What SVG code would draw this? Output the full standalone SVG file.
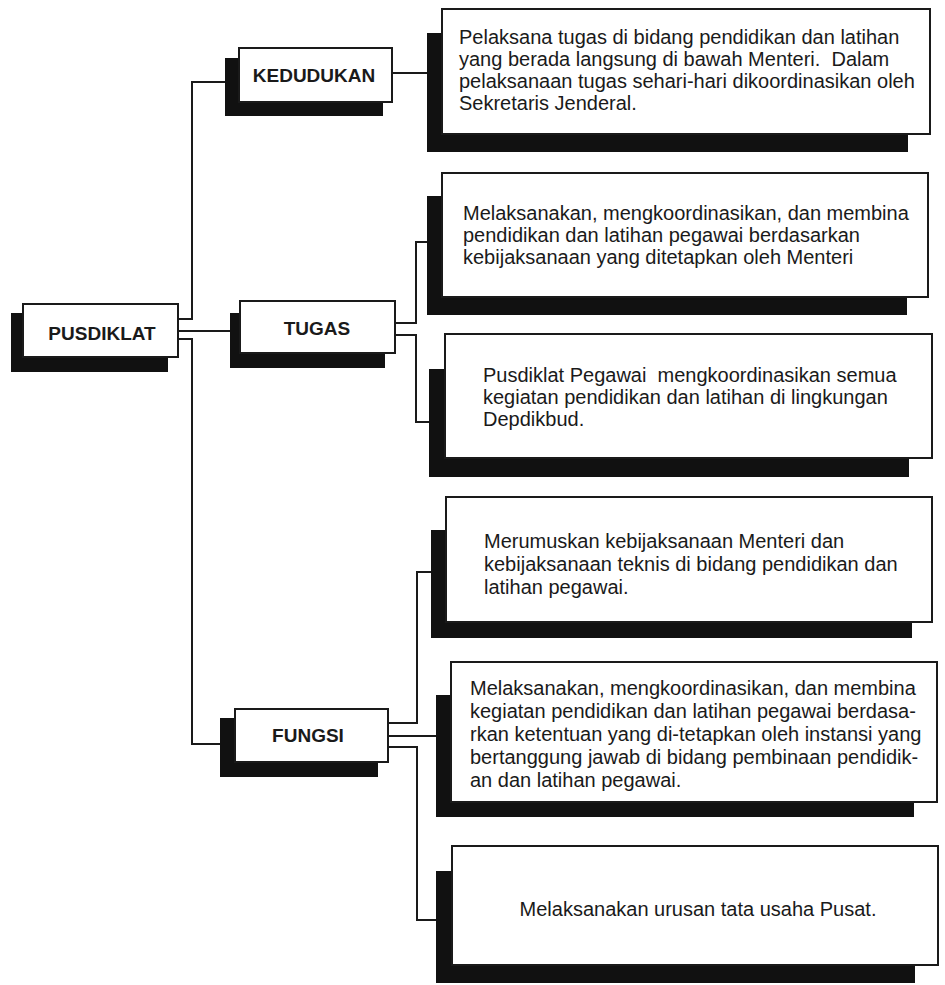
<svg xmlns="http://www.w3.org/2000/svg" width="945" height="985" viewBox="0 0 945 985">
  <style>
    .shadow { fill: #111; }
    .box { fill: #fff; stroke: #1a1a1a; stroke-width: 2; }
    .label { font-family: "Liberation Sans", Arial, Helvetica, sans-serif; font-weight: bold; font-size: 19px; fill: #1a1a1a; text-anchor: middle; }
    .body { font-family: "Liberation Sans", Arial, Helvetica, sans-serif; font-size: 20px; fill: #1a1a1a; white-space: pre; }
    .wire { fill: none; stroke: #1a1a1a; stroke-width: 2; }
  </style>
  <rect width="945" height="985" fill="#fff"/>

  <!-- connectors -->
  <g id="connectors">
    <path class="wire" d="M178,319 H192 V82 H225"/>
    <path class="wire" d="M178,331 H230"/>
    <path class="wire" d="M178,339 H192 V744 H220"/>
    <path class="wire" d="M392,73 H427"/>
    <path class="wire" d="M395,323 H416 V242 H427"/>
    <path class="wire" d="M395,335 H416 V422 H429"/>
    <path class="wire" d="M388,723 H417 V572 H431"/>
    <path class="wire" d="M388,736 H436"/>
    <path class="wire" d="M388,747 H417 V920 H436"/>
  </g>

  <!-- root -->
  <g id="pusdiklat">
    <rect class="shadow" x="11" y="313" width="157" height="59"/>
    <rect class="box" x="23" y="304" width="155" height="53"/>
    <text class="label" x="102" y="340">PUSDIKLAT</text>
  </g>

  <!-- second level -->
  <g id="kedudukan">
    <rect class="shadow" x="225" y="58" width="158" height="58"/>
    <rect class="box" x="239" y="48" width="153" height="54"/>
    <text class="label" x="314" y="82">KEDUDUKAN</text>
  </g>
  <g id="tugas">
    <rect class="shadow" x="230" y="313" width="155" height="55"/>
    <rect class="box" x="240" y="301" width="155" height="52"/>
    <text class="label" x="317" y="335">TUGAS</text>
  </g>
  <g id="fungsi">
    <rect class="shadow" x="220" y="718" width="158" height="59"/>
    <rect class="box" x="235" y="709" width="153" height="53"/>
    <text class="label" x="308" y="742">FUNGSI</text>
  </g>

  <!-- description boxes -->
  <g id="kedudukan-desc">
    <rect class="shadow" x="427" y="33" width="481" height="119"/>
    <rect class="box" x="442" y="9" width="488" height="125"/>
    <text class="body" x="459" y="44">Pelaksana tugas di bidang pendidikan dan latihan</text>
    <text class="body" x="459" y="66" xml:space="preserve">yang berada langsung di bawah Menteri.  Dalam</text>
    <text class="body" x="459" y="88">pelaksanaan tugas sehari-hari dikoordinasikan oleh</text>
    <text class="body" x="459" y="110">Sekretaris Jenderal.</text>
  </g>
  <g id="tugas-desc-1">
    <rect class="shadow" x="427" y="196" width="480" height="119"/>
    <rect class="box" x="442" y="173" width="486" height="124"/>
    <text class="body" x="463" y="220">Melaksanakan, mengkoordinasikan, dan membina</text>
    <text class="body" x="463" y="242">pendidikan dan latihan pegawai berdasarkan</text>
    <text class="body" x="463" y="264">kebijaksanaan yang ditetapkan oleh Menteri</text>
  </g>
  <g id="tugas-desc-2">
    <rect class="shadow" x="429" y="369" width="480" height="108"/>
    <rect class="box" x="445" y="334" width="487" height="124"/>
    <text class="body" x="483" y="382" xml:space="preserve">Pusdiklat Pegawai  mengkoordinasikan semua</text>
    <text class="body" x="483" y="404">kegiatan pendidikan dan latihan di lingkungan</text>
    <text class="body" x="483" y="426">Depdikbud.</text>
  </g>
  <g id="fungsi-desc-1">
    <rect class="shadow" x="431" y="530" width="481" height="108"/>
    <rect class="box" x="446" y="497" width="486" height="125"/>
    <text class="body" x="484" y="548">Merumuskan kebijaksanaan Menteri dan</text>
    <text class="body" x="484" y="571">kebijaksanaan teknis di bidang pendidikan dan</text>
    <text class="body" x="484" y="594">latihan pegawai.</text>
  </g>
  <g id="fungsi-desc-2">
    <rect class="shadow" x="436" y="695" width="478" height="122"/>
    <rect class="box" x="451" y="662" width="486" height="140"/>
    <text class="body" x="470" y="695">Melaksanakan, mengkoordinasikan, dan membina</text>
    <text class="body" x="470" y="718">kegiatan pendidikan dan latihan pegawai berdasa-</text>
    <text class="body" x="470" y="741">rkan ketentuan yang di-tetapkan oleh instansi yang</text>
    <text class="body" x="470" y="764">bertanggung jawab di bidang pembinaan pendidik-</text>
    <text class="body" x="470" y="787">an dan latihan pegawai.</text>
  </g>
  <g id="fungsi-desc-3">
    <rect class="shadow" x="436" y="871" width="479" height="112"/>
    <rect class="box" x="452" y="846" width="486" height="119"/>
    <text class="body" x="698" y="916" text-anchor="middle">Melaksanakan urusan tata usaha Pusat.</text>
  </g>
</svg>
